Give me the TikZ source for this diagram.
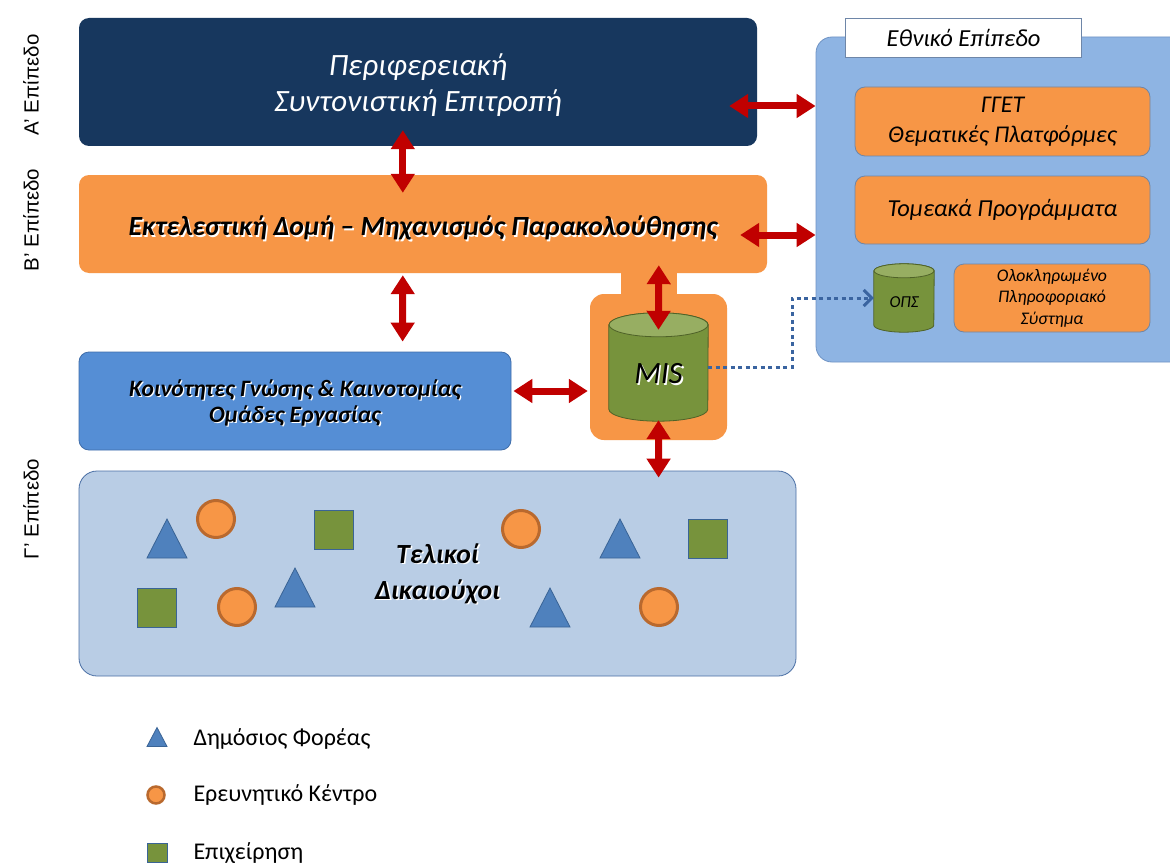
\documentclass[tikz,border=0pt]{standalone}
\usepackage{fontspec}
\setmainfont{Carlito}
\newfontfamily\arialf{Liberation Sans}
\usetikzlibrary{arrows.meta,calc}
\definecolor{navy}{HTML}{17375E}
\definecolor{orF}{HTML}{F79646}
\definecolor{orB}{HTML}{B9692E}
\definecolor{arrred}{HTML}{C00000}
\definecolor{blueK}{HTML}{558ED5}
\definecolor{blueKb}{HTML}{3F6DAA}
\definecolor{lightT}{HTML}{B9CDE5}
\definecolor{lightTb}{HTML}{4A6FA5}
\definecolor{panel}{HTML}{8EB4E3}
\definecolor{panelb}{HTML}{6F93C4}
\definecolor{grayb}{HTML}{6E86A8}
\definecolor{greenF}{HTML}{77933C}
\definecolor{greenT}{HTML}{97AE62}
\definecolor{greenB}{HTML}{4F6228}
\definecolor{triF}{HTML}{4F81BD}
\definecolor{triB}{HTML}{3A6496}
\definecolor{dotc}{HTML}{3A64A0}
\tikzset{
  box/.style={rectangle, rounded corners=10pt, inner sep=0pt, align=center},
  dbl/.style={draw=arrred, line width=7pt, {Triangle[length=19pt,width=23pt]}-{Triangle[length=19pt,width=23pt]}},
  shadowtxt/.style={text=white, align=center},
  maintxt/.style={text=black, align=center},
  cylbody/.style={draw=greenB, line width=0.8pt, fill=greenF},
  cyltop/.style={draw=greenB, line width=0.8pt, fill=greenT},
  legtxt/.style={anchor=west, font=\fontsize{24}{28}\selectfont},
  lvl/.style={rotate=90, font=\arialf\fontsize{20.5}{22}\selectfont},
  pics/tri/.style={code={\draw[fill=triF, draw=triB, line width=0.8pt] (-20,19.5) -- (20,19.5) -- (0,-19.5) -- cycle;}},
  pics/smalltri/.style={code={\draw[fill=triF, draw=triB, line width=0.8pt] (-10,9.5) -- (10,9.5) -- (0,-9.5) -- cycle;}},
  pics/circ/.style={code={\draw[fill=orF, draw=orB, line width=3pt] (0,0) circle[radius=18.5pt];}},
  pics/sq/.style={code={\draw[fill=greenF, draw=triB, line width=0.8pt] (-19.5,-19.5) rectangle (19.5,19.5);}},
}
\begin{document}
\begin{tikzpicture}[x=1pt,y=-1pt]
\useasboundingbox (0,0) rectangle (1170,864);
\clip (0,0) rectangle (1170,864);
\fill[white] (0,0) rectangle (1170,864);

% level labels
\node[lvl] (la) at (31,85) {Α’ Επίπεδο};
\node[lvl] (lb) at (31,220) {Β’ Επίπεδο};
\node[lvl] (lc) at (31,509) {Γ’ Επίπεδο};

% right panel
\node[box, rounded corners=16pt, fill=panel, draw=panelb, line width=0.8pt, minimum width=374, minimum height=325] (N) at (1003,199.5) {};
\node[rectangle, fill=white, draw=grayb, line width=0.8pt, minimum width=236, minimum height=39, inner sep=0pt, font=\itshape\fontsize{24.5}{28}\selectfont] (L) at (963.5,37.5) {Εθνικό Επίπεδο};
\node[box, fill=orF, draw=grayb, line width=0.8pt, minimum width=295, minimum height=69, font=\itshape\fontsize{24}{30}\selectfont] (G) at (1002.5,121.5) {ΓΓΕΤ\\Θεματικές Πλατφόρμες};
\node[box, fill=orF, draw=grayb, line width=0.8pt, minimum width=295, minimum height=68, font=\itshape\fontsize{24.4}{28}\selectfont] (Tm) at (1002.5,210) {Τομεακά Προγράμματα};
\node[box, fill=orF, draw=grayb, line width=0.8pt, minimum width=196, minimum height=68, font=\itshape\fontsize{17.7}{21.5}\selectfont] (O) at (1052,298) {Ολοκληρωμένο\\Πληροφοριακό\\Σύστημα};
% OPS cylinder
\node[rectangle, inner sep=0pt, minimum width=60, minimum height=68] (ops) at (904,298) {};
\draw[cylbody] ($(ops.north west)+(0,7)$) -- ($(ops.south west)+(0,-7)$) arc[start angle=180, end angle=360, x radius=30pt, y radius=7pt] -- ($(ops.north east)+(0,7)$) arc[start angle=0, end angle=180, x radius=30pt, y radius=7pt] -- cycle;
\draw[cyltop] ($(ops.north)+(0,7)$) ellipse[x radius=30pt, y radius=7pt];
\node[font=\itshape\fontsize{16.7}{18}\selectfont] (opst) at ($(ops)+(0,4)$) {ΟΠΣ};

% top box
\node[box, fill=navy, minimum width=678, minimum height=128] (A) at (418,82) {};
\node[text=white, align=center, font=\itshape\fontsize{31}{36}\selectfont] (At) at ($(A)+(0,3)$) {Περιφερειακή\\Συντονιστική Επιτροπή};

% executive box + MIS container
\fill[orF] (621,265) rectangle (677,300);
\node[box, fill=orF, minimum width=688, minimum height=98] (B) at (423,224) {};
\node[box, rounded corners=14pt, fill=orF, minimum width=137, minimum height=146] (C) at (658.5,367) {};
\node[shadowtxt, font=\bfseries\itshape\fontsize{27.7}{32}\selectfont] at ($(B)+(1.6,5.6)$) {Εκτελεστική Δομή – Μηχανισμός Παρακολούθησης};
\node[maintxt, font=\bfseries\itshape\fontsize{27.7}{32}\selectfont] (Bt) at ($(B)+(0,4)$) {Εκτελεστική Δομή – Μηχανισμός Παρακολούθησης};

% MIS cylinder
\node[rectangle, inner sep=0pt, minimum width=99, minimum height=108] (mis) at (658.5,367) {};
\draw[cylbody] ($(mis.north west)+(0,12)$) -- ($(mis.south west)+(0,-12)$) arc[start angle=180, end angle=360, x radius=49.5pt, y radius=12pt] -- ($(mis.north east)+(0,12)$) arc[start angle=0, end angle=180, x radius=49.5pt, y radius=12pt] -- cycle;
\draw[cyltop] ($(mis.north)+(0,12)$) ellipse[x radius=49.5pt, y radius=12pt];
\node[shadowtxt, font=\itshape\fontsize{31}{33}\selectfont] at ($(mis)+(1.6,8.6)$) {MIS};
\node[maintxt, font=\itshape\fontsize{31}{33}\selectfont] (mist) at ($(mis)+(0,7)$) {MIS};

% knowledge communities
\node[box, fill=blueK, draw=blueKb, line width=0.8pt, minimum width=432, minimum height=98] (K) at (295,401) {};
\node[shadowtxt, font=\bfseries\itshape\fontsize{23.5}{26}\selectfont] at ($(K)+(1.3,3.3)$) {Κοινότητες Γνώσης \& Καινοτομίας\\Ομάδες Εργασίας};
\node[maintxt, font=\bfseries\itshape\fontsize{23.5}{26}\selectfont] (Kt) at ($(K)+(0,2)$) {Κοινότητες Γνώσης \& Καινοτομίας\\Ομάδες Εργασίας};

% final beneficiaries
\node[box, rounded corners=18pt, fill=lightT, draw=lightTb, line width=0.8pt, minimum width=717, minimum height=205] (T) at (437.5,573.5) {};
\pic at (167,538.5) {tri};
\pic at (295,587.5) {tri};
\pic at (620,538.5) {tri};
\pic at (550,607.5) {tri};
\pic at (216,519) {circ};
\pic at (237,607) {circ};
\pic at (521,529) {circ};
\pic at (659,607) {circ};
\pic at (333.5,529.5) {sq};
\pic at (156.5,607.5) {sq};
\pic at (707.5,538.5) {sq};
\node[shadowtxt, font=\bfseries\itshape\fontsize{27.7}{36}\selectfont] at ($(T)+(1.6,1.6)$) {Τελικοί\\Δικαιούχοι};
\node[maintxt, font=\bfseries\itshape\fontsize{27.7}{36}\selectfont] (Tt) at (T) {Τελικοί\\Δικαιούχοι};

% arrows
\draw[dbl] ($(A.east)+(-28,24)$) -- ($(N.west)+(0,-93.5)$);
\draw[dbl] ($(A.south west)+(324,-16)$) -- ($(B.north west)+(324,18)$);
\draw[dbl] ($(B.east)+(-27,11)$) -- ($(N.west)+(0,35.5)$);
\draw[dbl] ($(B.south west)+(324,2)$) -- ($(K.north west)+(324,-10)$);
\draw[dbl] ($(B.south west)+(580,-8)$) -- ($(mis.north)+(0,17)$);
\draw[dbl] ($(K.east)+(2,-10)$) -- ($(C.west)+(-2,24)$);
\draw[dbl] ($(mis.south)+(0,-1)$) -- ($(T.north west)+(580,7)$);

% dotted link MIS -> OPS
\draw[dotc, line width=3pt, dash pattern=on 4pt off 3.5pt, -{Straight Barb[length=8pt,width=16pt,line width=3pt]}] (mis.east) -- ($(mis.east)+(84,0)$) |- (ops.west);

% legend
\pic at (157,737) {smalltri};
\node[legtxt] (l1) at (190,739) {Δημόσιος Φορέας};
\draw[fill=orF, draw=orB, line width=2.5pt] (156,795) circle[radius=8.5pt];
\node[legtxt] (l2) at (190,795) {Ερευνητικό Κέντρο};
\draw[fill=greenF, draw=triB, line width=0.8pt] (147,843) rectangle (167,862);
\node[legtxt] (l3) at (190,853) {Επιχείρηση};
\end{tikzpicture}
\end{document}
